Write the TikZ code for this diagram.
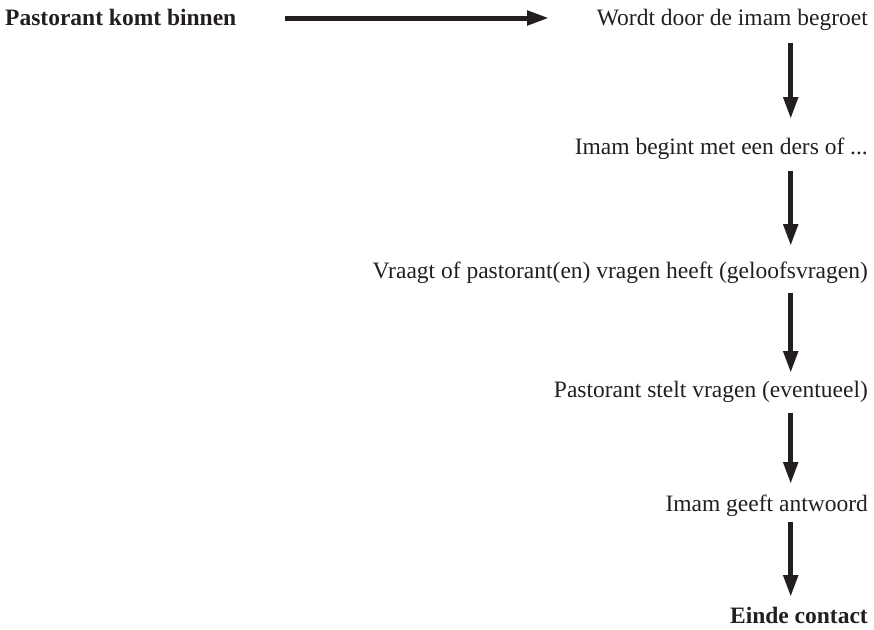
\documentclass[tikz,border=0pt]{standalone}
\usepackage{fontspec}
\setmainfont{Liberation Serif}
\usetikzlibrary{arrows.meta}
\definecolor{ink}{HTML}{231F20}
\begin{document}
\begin{tikzpicture}[x=1pt,y=-1pt,
  lbl/.style={anchor=base east,inner sep=0pt,text=ink,font=\fontsize{23.5}{28}\selectfont},
  lblL/.style={anchor=base west,inner sep=0pt,text=ink,font=\fontsize{23.5}{28}\selectfont\bfseries},
  arr/.style={draw=ink,line width=5pt,-{Triangle[length=22pt,width=14pt]},fill=ink}]
\useasboundingbox (0,0) rectangle (874,629);
\node[lblL] (t0) at (5,25) {Pastorant komt binnen};
\node[lbl] (t1) at (868,25) {Wordt door de imam begroet};
\node[lbl] (t2) at (868,154) {Imam begint met een ders of ...};
\node[lbl] (t3) at (868,278) {Vraagt of pastorant(en) vragen heeft (geloofsvragen)};
\node[lbl] (t4) at (868,397) {Pastorant stelt vragen (eventueel)};
\node[lbl] (t5) at (868,511) {Imam geeft antwoord};
\node[lbl,font=\fontsize{23.5}{28}\selectfont\bfseries] (t6) at (868,623) {Einde contact};
\coordinate (h0) at (285,18);
\coordinate (h1) at (549,18);
\coordinate (a1) at (790.7,43);  \coordinate (b1) at (790.7,119);
\coordinate (a2) at (790.7,171); \coordinate (b2) at (790.7,246);
\coordinate (a3) at (790.7,293); \coordinate (b3) at (790.7,373);
\coordinate (a4) at (790.7,413); \coordinate (b4) at (790.7,484);
\coordinate (a5) at (790.7,522); \coordinate (b5) at (790.7,597);
\draw[arr] (h0) -- (h1);
\draw[arr] (a1) -- (b1);
\draw[arr] (a2) -- (b2);
\draw[arr] (a3) -- (b3);
\draw[arr] (a4) -- (b4);
\draw[arr] (a5) -- (b5);
\end{tikzpicture}
\end{document}
